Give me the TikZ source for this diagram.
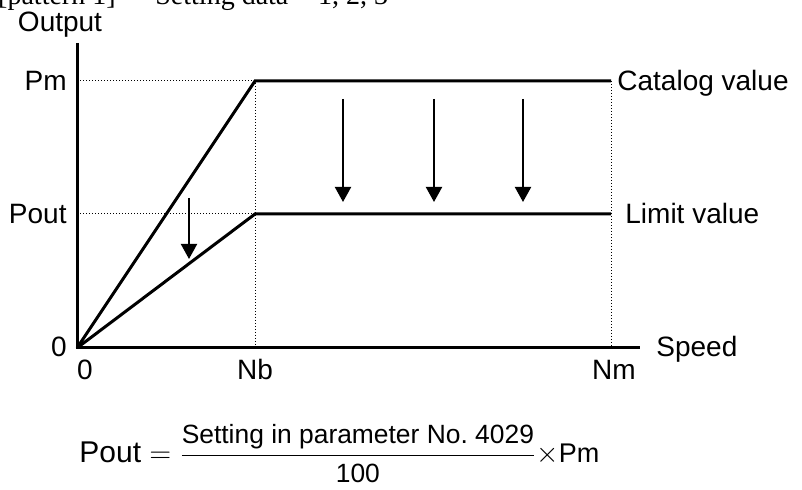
\documentclass[tikz,border=0pt]{standalone}
\usepackage{amsmath}
\usepackage{fontspec}
\setmainfont{Liberation Sans}
\newfontfamily\headfont{Liberation Serif}
\usetikzlibrary{arrows.meta}

\begin{document}
\begin{tikzpicture}[x=0.5pt,y=-0.5pt,font=\fontsize{14}{17}\selectfont,
  axis/.style={line width=1.5pt},
  curve/.style={line width=1.5pt},
  guide/.style={line width=0.5pt,dash pattern=on 0.5pt off 1pt},
  drop/.style={line width=1pt,-{Triangle[length=7.5pt,width=8pt]}},
  lbl/.style={inner sep=0pt}]
\useasboundingbox (0,0) rectangle (802,490);
% points of the graph
\coordinate (O) at (77,348);
\coordinate (ytop) at (77,43);
\coordinate (xend) at (640,348);
\coordinate (pm) at (77,81);
\coordinate (pout) at (77,214);
\coordinate (nb) at (255,348);
\coordinate (nm) at (611,348);
\coordinate (A) at (255,81);
\coordinate (B) at (255,214);
\coordinate (C) at (611,81);
\coordinate (D) at (611,214);
% guides
\draw[guide] (pm) -- (A) -- (nb);
\draw[guide] (pout) -- (B);
\draw[guide] (C) -- (nm);
% axes
\draw[axis] (ytop) -- (O) -- (xend);
% catalog and limit curves
\draw[curve] (O) -- (A) -- (C);
\draw[curve] (O) -- (B) -- (D);
% arrows
\foreach \x [count=\i] in {343,434,523} {
  \coordinate (s\i) at (\x,99);
  \coordinate (e\i) at (\x,202);
  \draw[drop] (s\i) -- (e\i);
}
\coordinate (s0) at (189,198);
\coordinate (e0) at (189,259);
\draw[drop] (s0) -- (e0);
% labels
\node[lbl,anchor=base east,font=\headfont\fontsize{14}{17}\selectfont] (head1) at (116,5) {[pattern 1]};
\node[lbl,anchor=base west,font=\headfont\fontsize{14}{17}\selectfont] (head2) at (155,5) {Setting data = 1, 2, 3};
\node[lbl,anchor=base] (output) at (60,32) {Output};
\node[lbl,anchor=base east] (pmlbl) at (67,91) {Pm};
\node[lbl,anchor=base east] (poutlbl) at (67,224) {Pout};
\node[lbl,anchor=base east] (zeroy) at (67,357) {0};
\node[lbl,anchor=base] (zerox) at (85,380) {0};
\node[lbl,anchor=base] (nblbl) at (255,380) {Nb};
\node[lbl,anchor=base] (nmlbl) at (614,380) {Nm};
\node[lbl,anchor=base west] (speed) at (656,357) {Speed};
\node[lbl,anchor=base west] (catalog) at (617,91) {Catalog value};
\node[lbl,anchor=base west] (limit) at (625,224) {Limit value};
% formula
\node[lbl,anchor=base west,font=\fontsize{15}{18}\selectfont] (formula) at (79,463)
  {Pout $=\dfrac{\text{\fontsize{13.2}{16}\selectfont Setting in parameter No.\ 4029}}{\text{\fontsize{13.2}{16}\selectfont 100}}\times${\fontsize{13.5}{16}\selectfont Pm}};
\end{tikzpicture}
\end{document}
